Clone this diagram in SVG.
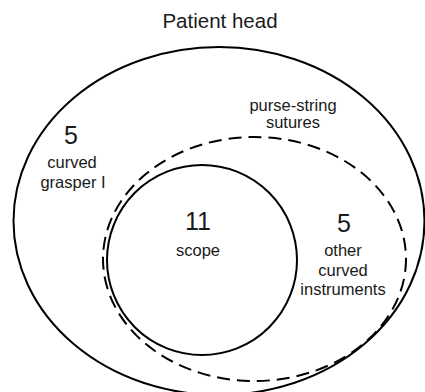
<svg xmlns="http://www.w3.org/2000/svg" width="425" height="392" viewBox="0 0 425 392">
<style>
.ln{fill:none;stroke:#000;stroke-width:2}
.ds{fill:none;stroke:#000;stroke-width:2;stroke-dasharray:13 7}
text{font-family:"Liberation Sans",Arial,sans-serif;fill:#1a1a1a;text-anchor:middle}
.t{font-size:16.5px}
.n{font-size:25px}
.h{font-size:20.5px}
</style>
<rect width="425" height="392" fill="#fff"/>
<g id="connectors"></g>
<g id="patient-head">
<ellipse class="ln" cx="219" cy="221" rx="205.5" ry="174"/>
<text class="h" x="220" y="27.5">Patient head</text>
</g>
<g id="curved-grasper">
<text class="n" x="71" y="144">5</text>
<text class="t" x="72" y="168">curved</text>
<text class="t" x="73" y="188">grasper I</text>
</g>
<g id="purse-string-sutures">
<ellipse class="ds" cx="254.5" cy="259" rx="151.5" ry="122"/>
<text class="t" x="293" y="111">purse-string</text>
<text class="t" x="293" y="128">sutures</text>
</g>
<g id="other-curved">
<text class="n" x="344" y="232">5</text>
<text class="t" x="343" y="255.5">other</text>
<text class="t" x="343" y="275.5">curved</text>
<text class="t" x="343" y="294.5">instruments</text>
</g>
<g id="scope">
<circle class="ln" cx="202" cy="260" r="95"/>
<text class="n" x="198" y="230">11</text>
<text class="t" x="198" y="256">scope</text>
</g>
</svg>
